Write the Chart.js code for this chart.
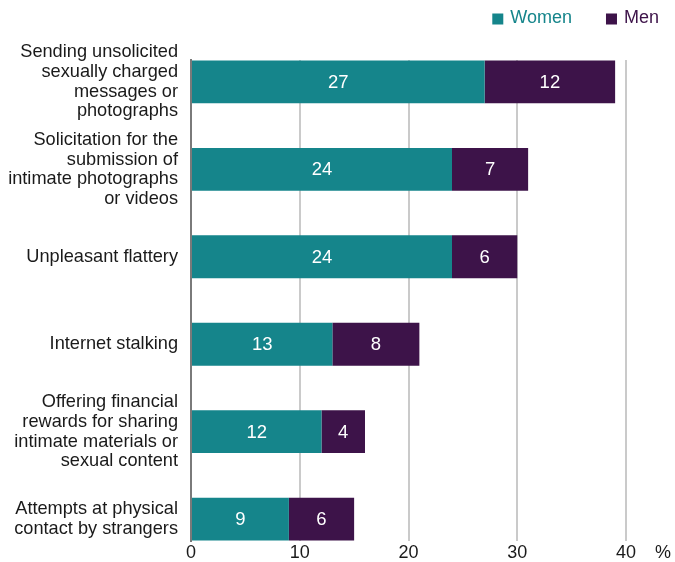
<!DOCTYPE html>
<html>
<head>
<meta charset="utf-8">
<script src="https://cdn.jsdelivr.net/npm/chart.js@4/dist/chart.umd.min.js"></script>
<style>
  html, body { margin: 0; padding: 0; background: #fff; }
  #wrap { width: 675px; height: 562px; }
</style>
</head>
<body>
<div id="wrap"><canvas id="c"></canvas></div>
<script>
// Forms of online harassment, share of respondents (%)
const categories = [
  ["Sending unsolicited", "sexually charged", "messages or", "photographs"],
  ["Solicitation for the", "submission of", "intimate photographs", "or videos"],
  ["Unpleasant flattery"],
  ["Internet stalking"],
  ["Offering financial", "rewards for sharing", "intimate materials or", "sexual content"],
  ["Attempts at physical", "contact by strangers"]
];
const women = [27, 24, 24, 13, 12, 9];
const men = [12, 7, 6, 8, 4, 6];
const xTicks = [0, 10, 20, 30, 40];
const seriesNames = ["Women", "Men"];

const TEAL = "#15858b";
const PURPLE = "#3d1349";
const INK = "#1a1a1a";
const FONT = "'Liberation Sans', Arial, Helvetica, sans-serif";

// white value labels centred in each segment
const valueLabels = {
  id: "valueLabels",
  afterDatasetsDraw(chart) {
    const ctx = chart.ctx;
    ctx.save();
    ctx.fillStyle = "#ffffff";
    ctx.font = "18.5px " + FONT;
    ctx.textAlign = "center";
    ctx.textBaseline = "middle";
    chart.data.datasets.forEach((ds, di) => {
      const meta = chart.getDatasetMeta(di);
      meta.data.forEach((el, i) => {
        const cx = (el.x + el.base) / 2;
        ctx.fillText(String(ds.data[i].x), cx, el.y + 1);
      });
    });
    ctx.restore();
  }
};

// "%" unit after the last x tick
const unitLabel = {
  id: "unitLabel",
  afterDraw(chart) {
    const sx = chart.scales.x;
    const ctx = chart.ctx;
    ctx.save();
    ctx.fillStyle = INK;
    ctx.font = "18px " + FONT;
    ctx.textAlign = "left";
    ctx.textBaseline = "middle";
    ctx.fillText("%", sx.getPixelForValue(xTicks[xTicks.length - 1]) + 29, sx.top + 12);
    ctx.restore();
  }
};

// compact legend in the top-right corner, text tinted like its series
const seriesLegend = {
  id: "seriesLegend",
  afterDraw(chart) {
    const ctx = chart.ctx;
    const box = 11, gap = 7, spacing = 34, cy = 18;
    ctx.save();
    ctx.font = "18px " + FONT;
    ctx.textBaseline = "middle";
    ctx.textAlign = "left";
    const items = chart.data.datasets.map(ds => ({
      text: ds.label, color: ds.backgroundColor, w: ctx.measureText(ds.label).width
    }));
    const total = items.reduce((s, it) => s + box + gap + it.w, 0) + spacing * (items.length - 1);
    let x = chart.width - 16 - total;
    items.forEach(it => {
      ctx.fillStyle = it.color;
      ctx.fillRect(x, cy - box / 2 + 1, box, box);
      ctx.fillText(it.text, x + box + gap, cy);
      x += box + gap + it.w + spacing;
    });
    ctx.restore();
  }
};

new Chart(document.getElementById("c"), {
  type: "bar",
  data: {
    datasets: [
      {
        label: seriesNames[0],
        data: women.map((v, i) => ({ x: v, y: i })),
        backgroundColor: TEAL,
        borderWidth: 0,
        categoryPercentage: 1,
        barPercentage: 0.49
      },
      {
        label: seriesNames[1],
        data: men.map((v, i) => ({ x: v, y: i })),
        backgroundColor: PURPLE,
        borderWidth: 0,
        categoryPercentage: 1,
        barPercentage: 0.49
      }
    ]
  },
  options: {
    indexAxis: "y",
    responsive: true,
    maintainAspectRatio: false,
    animation: false,
    layout: { padding: { left: 0, right: 49, top: 60, bottom: 0 } },
    plugins: {
      tooltip: { enabled: false },
      legend: { display: false }
    },
    scales: {
      x: {
        type: "linear",
        stacked: true,
        min: 0,
        max: 40,
        position: "bottom",
        afterBuildTicks(scale) {
          scale.ticks = xTicks.map(v => ({ value: v }));
        },
        afterFit(scale) {
          scale.height = 21;
        },
        ticks: {
          padding: 1,
          color: INK,
          font: { family: FONT, size: 18 }
        },
        grid: {
          drawTicks: false,
          lineWidth: 2,
          color: ctx => (ctx.tick && ctx.tick.value === 0) ? "#7a7a7a" : "#cacaca"
        },
        border: { display: false }
      },
      y: {
        type: "linear",
        stacked: true,
        reverse: true,
        offset: false,
        min: -0.25,
        max: 5.25,
        afterBuildTicks(scale) {
          scale.ticks = categories.map((_, i) => ({ value: i }));
        },
        afterFit(scale) {
          scale.width = 191;
          scale.paddingTop = 0;
          scale.paddingBottom = 0;
        },
        ticks: {
          autoSkip: false,
          padding: 13,
          color: INK,
          font: { family: FONT, size: 18.2, lineHeight: 1.08 },
          callback: v => categories[v]
        },
        grid: { display: false, drawTicks: false, offset: false },
        border: { display: true, color: "#7a7a7a", width: 2 }
      }
    }
  },
  plugins: [valueLabels, unitLabel, seriesLegend]
});
</script>
</body>
</html>
